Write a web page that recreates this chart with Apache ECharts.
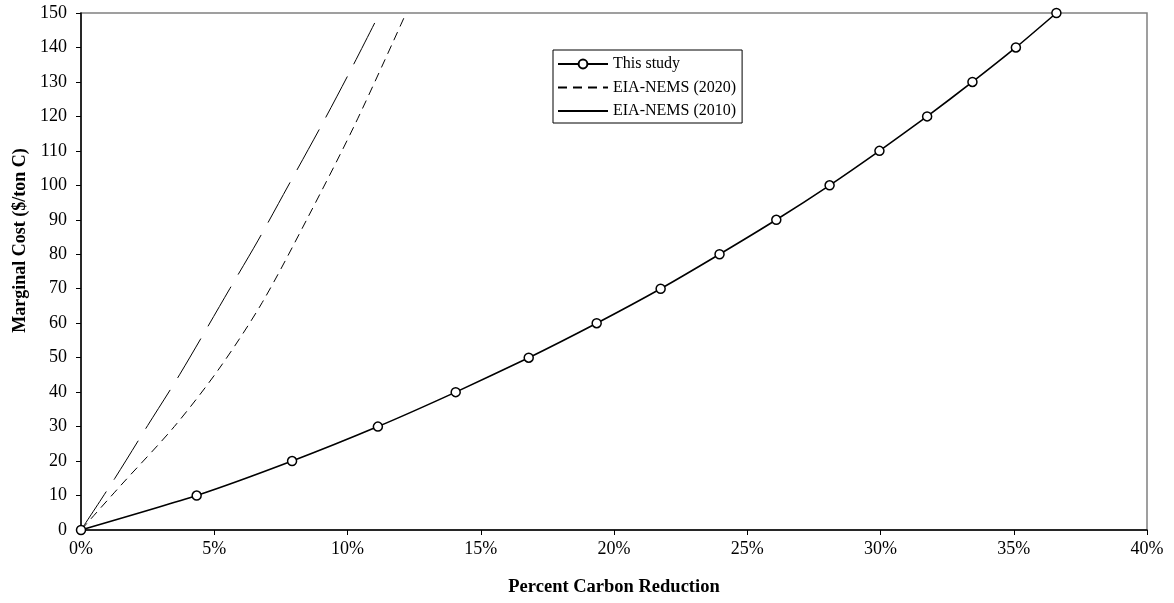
<!DOCTYPE html>
<html>
<head>
<meta charset="utf-8">
<script src="https://cdn.jsdelivr.net/npm/echarts@6/dist/echarts.min.js"></script>
<style>html,body{margin:0;padding:0;background:#fff}#c{width:1174px;height:603px}</style>
</head>
<body>
<div id="c"></div>
<script>
// Data
var studyX = [0, 4.34, 7.92, 11.14, 14.06, 16.8, 19.35, 21.75, 23.96, 26.09, 28.09, 29.96, 31.75, 33.45, 35.08, 36.6];
var studyY = [0, 10, 20, 30, 40, 50, 60, 70, 80, 90, 100, 110, 120, 130, 140, 150];
var nems2020X = [0, 1.5, 3.5, 5.2, 6.8, 8.5, 10.3, 12.2];
var nems2020Y = [0, 13, 30, 47, 66, 90.5, 118, 150];
var nems2010X = [0, 1.27, 2.5, 3.71, 5.59, 6.65, 7.77, 9.03, 10.09, 11.21];
var nems2010Y = [0, 15, 30.3, 45.2, 70.1, 84.1, 99.8, 117.5, 133, 150];
var seriesNames = ['This study', 'EIA-NEMS (2020)', 'EIA-NEMS (2010)'];

function pairs(xs, ys) { return xs.map(function (x, i) { return [x, ys[i]]; }); }

var font = '"Liberation Serif", "Times New Roman", serif';
var chart = echarts.init(document.getElementById('c'));
chart.setOption({
  animation: false,
  backgroundColor: '#fff',
  grid: { left: 81, right: 27, top: 13, bottom: 73, show: true, borderColor: '#808080', borderWidth: 1.5, outerBoundsMode: 'none', containLabel: false },
  legend: {
    left: 553, top: 50, orient: 'vertical',
    padding: [6, 6, 4, 4],
    itemGap: 7.5, itemWidth: 50, itemHeight: 11,
    borderColor: '#000', borderWidth: 1,
    textStyle: { fontFamily: font, fontSize: 16, color: '#000' },
    data: [
      { name: seriesNames[0] },
      { name: seriesNames[1], itemStyle: { opacity: 0 } },
      { name: seriesNames[2], itemStyle: { opacity: 0 }, lineStyle: { type: 'solid' } }
    ]
  },
  xAxis: {
    type: 'value', min: 0, max: 40, interval: 5,
    name: 'Percent Carbon Reduction', nameLocation: 'middle', nameGap: 48,
    nameTextStyle: { fontFamily: font, fontSize: 18.5, fontWeight: 'bold', color: '#000' },
    axisLine: { lineStyle: { color: '#000', width: 1.5 } },
    axisTick: { show: true, length: 5, lineStyle: { color: '#000' } },
    axisLabel: { formatter: '{value}%', fontFamily: font, fontSize: 18, color: '#000', margin: 10 },
    splitLine: { show: false }
  },
  yAxis: {
    type: 'value', min: 0, max: 150, interval: 10,
    name: 'Marginal Cost ($/ton C)', nameLocation: 'middle', nameGap: 50,
    nameTextStyle: { fontFamily: font, fontSize: 18, fontWeight: 'bold', color: '#000', padding: [0, 0, 0, 62] },
    axisLine: { show: true, lineStyle: { color: '#000', width: 1.5 } },
    axisTick: { show: true, length: 5, lineStyle: { color: '#000' } },
    axisLabel: { fontFamily: font, fontSize: 18, color: '#000', margin: 14 },
    splitLine: { show: false }
  },
  series: [
    {
      name: seriesNames[0], type: 'line', data: pairs(studyX, studyY), smooth: 0.2,
      symbol: 'circle', symbolSize: 9, showSymbol: true,
      itemStyle: { color: '#fff', borderColor: '#000', borderWidth: 1.5 },
      lineStyle: { color: '#000', width: 1.6 }, z: 5
    },
    {
      name: seriesNames[1], type: 'line', data: pairs(nems2020X, nems2020Y), smooth: 0.3,
      symbol: 'none', itemStyle: { color: '#000' },
      lineStyle: { color: '#000', width: 1, type: [9, 6] }
    },
    {
      name: seriesNames[2], type: 'line', data: pairs(nems2010X, nems2010Y), smooth: 0.3,
      symbol: 'none', itemStyle: { color: '#000' },
      lineStyle: { color: '#000', width: 1, type: [46, 14] }
    }
  ]
});
</script>
</body>
</html>
